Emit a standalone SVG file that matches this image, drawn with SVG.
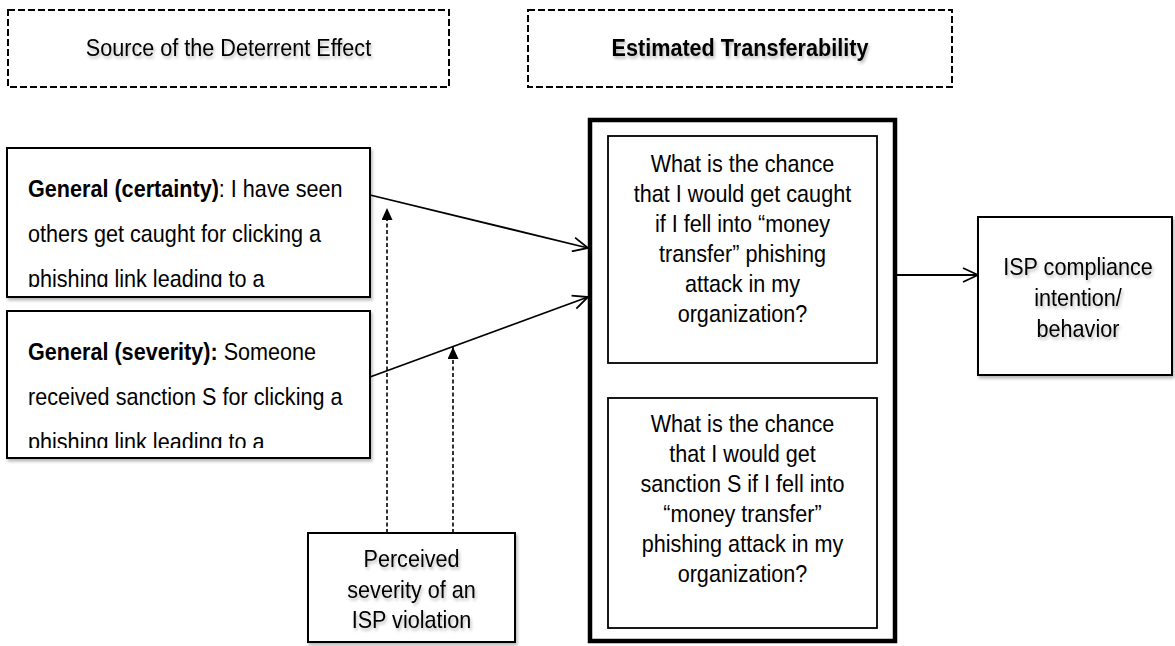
<svg xmlns="http://www.w3.org/2000/svg" width="1175" height="646" viewBox="0 0 1175 646">
<style>
  .txt { font-family: "Liberation Sans", Arial, sans-serif; font-size: 24px; fill: #000; }
  .b { font-weight: bold; }
  .box { fill: #fff; stroke: #000; stroke-width: 2; }
  .inner { fill: none; stroke: #000; stroke-width: 1.8; }
  .hdr { fill: #fff; stroke: #000; stroke-width: 2; stroke-dasharray: 7 3; }
  .conn { fill: none; stroke: #000; stroke-width: 1.8; }
  .dconn { fill: none; stroke: #000; stroke-width: 1.6; stroke-dasharray: 4 2.5; }
  .sh { filter: url(#shadow); }
</style>
<defs>
  <filter id="shadow" x="-10%" y="-10%" width="130%" height="140%">
    <feDropShadow dx="1.5" dy="2.5" stdDeviation="1.8" flood-color="#000" flood-opacity="0.28"/>
  </filter>
  <marker id="open" markerUnits="userSpaceOnUse" markerWidth="18" markerHeight="16" refX="16" refY="8" orient="auto">
    <path d="M1,1 L16,8 L1,15" fill="none" stroke="#000" stroke-width="1.8"/>
  </marker>
  <marker id="fill" markerUnits="userSpaceOnUse" markerWidth="12" markerHeight="12" refX="12" refY="5.5" orient="auto">
    <path d="M0,0 L12,5.5 L0,11 Z" fill="#000"/>
  </marker>
  <clipPath id="clip1"><rect x="8" y="149" width="361" height="138"/></clipPath>
  <clipPath id="clip2"><rect x="8" y="312" width="361" height="136"/></clipPath>
</defs>

<rect width="1175" height="646" fill="#fff"/>

<g id="header-source">
  <rect class="hdr" x="8" y="10" width="441" height="77"/>
  <g class="sh" transform="translate(228.5 0) scale(0.9 1)">
    <text class="txt" x="0" y="56" text-anchor="middle">Source of the Deterrent Effect</text>
  </g>
</g>

<g id="header-transfer">
  <rect class="hdr" x="528" y="10" width="424" height="77"/>
  <g class="sh" transform="translate(740 0) scale(0.9 1)">
    <text class="txt b" x="0" y="56" text-anchor="middle">Estimated Transferability</text>
  </g>
</g>

<g id="connectors">
  <line class="conn" x1="370" y1="195" x2="588" y2="248" marker-end="url(#open)"/>
  <line class="conn" x1="370" y1="377" x2="588" y2="297" marker-end="url(#open)"/>
  <line class="conn" x1="897" y1="275" x2="978" y2="275" marker-end="url(#open)"/>
  <line class="dconn" x1="387" y1="533" x2="387" y2="208" marker-end="url(#fill)"/>
  <line class="dconn" x1="453" y1="533" x2="453" y2="347" marker-end="url(#fill)"/>
</g>

<g id="general-certainty">
  <rect class="box sh" x="7" y="148" width="363" height="149"/>
  <g clip-path="url(#clip1)">
    <g transform="translate(28 0) scale(0.9 1)">
      <text class="txt" x="0" y="197"><tspan class="b">General (certainty)</tspan>: I have seen</text>
      <text class="txt" x="0" y="242">others get caught for clicking a</text>
      <text class="txt" x="0" y="287">phishing link leading to a</text>
    </g>
  </g>
</g>

<g id="general-severity">
  <rect class="box sh" x="7" y="311" width="363" height="147"/>
  <g clip-path="url(#clip2)">
    <g transform="translate(28 0) scale(0.9 1)">
      <text class="txt" x="0" y="360"><tspan class="b">General (severity):</tspan> Someone</text>
      <text class="txt" x="0" y="405">received sanction S for clicking a</text>
      <text class="txt" x="0" y="450">phishing link leading to a</text>
    </g>
  </g>
</g>

<g id="perceived-severity">
  <rect class="box sh" x="308" y="533" width="207" height="109"/>
  <g class="sh" transform="translate(411.5 0) scale(0.9 1)">
    <text class="txt" x="0" y="567" text-anchor="middle">Perceived</text>
    <text class="txt" x="0" y="598" text-anchor="middle">severity of an</text>
    <text class="txt" x="0" y="628" text-anchor="middle">ISP violation</text>
  </g>
</g>

<g id="transferability">
  <rect x="590" y="120" width="305" height="521" fill="#fff" stroke="#000" stroke-width="4.5"/>
  <rect class="inner" x="608" y="136" width="269" height="227"/>
  <rect class="inner" x="608" y="398" width="269" height="230"/>
  <g transform="translate(742.5 0) scale(0.9 1)">
    <text class="txt" x="0" y="172" text-anchor="middle">What is the chance</text>
    <text class="txt" x="0" y="202" text-anchor="middle">that I would get caught</text>
    <text class="txt" x="0" y="232" text-anchor="middle">if I fell into “money</text>
    <text class="txt" x="0" y="262" text-anchor="middle">transfer” phishing</text>
    <text class="txt" x="0" y="292" text-anchor="middle">attack in my</text>
    <text class="txt" x="0" y="322" text-anchor="middle">organization?</text>
    <text class="txt" x="0" y="432" text-anchor="middle">What is the chance</text>
    <text class="txt" x="0" y="462" text-anchor="middle">that I would get</text>
    <text class="txt" x="0" y="492" text-anchor="middle">sanction S if I fell into</text>
    <text class="txt" x="0" y="522" text-anchor="middle">“money transfer”</text>
    <text class="txt" x="0" y="552" text-anchor="middle">phishing attack in my</text>
    <text class="txt" x="0" y="582" text-anchor="middle">organization?</text>
  </g>
</g>

<g id="isp-compliance">
  <rect class="box sh" x="978" y="217" width="194" height="158"/>
  <g class="sh" transform="translate(1078 0) scale(0.9 1)">
    <text class="txt" x="0" y="275" text-anchor="middle">ISP compliance</text>
    <text class="txt" x="0" y="306" text-anchor="middle">intention/</text>
    <text class="txt" x="0" y="337" text-anchor="middle">behavior</text>
  </g>
</g>
</svg>
